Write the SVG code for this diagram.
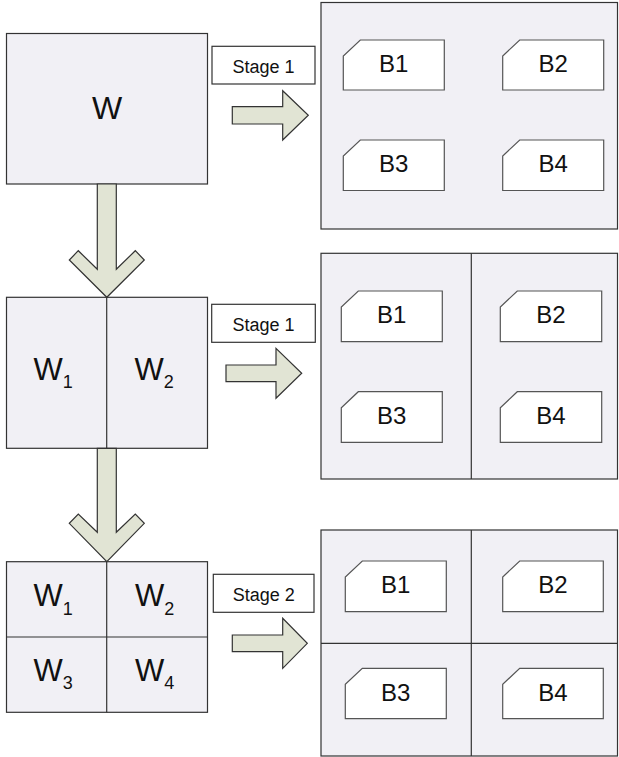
<svg xmlns="http://www.w3.org/2000/svg" width="619" height="757" viewBox="0 0 619 757">
<style>
.panel{fill:#f1f0f5;stroke:#333;stroke-width:1.2}
.div{stroke:#333;stroke-width:1.2;fill:none}
.fold{fill:#fff;stroke:#555;stroke-width:1.2}
.lbl{fill:#fff;stroke:#333;stroke-width:1.2}
.arr{fill:#e1e4d4;stroke:#333;stroke-width:1.2;stroke-linejoin:miter}
text{font-family:"Liberation Sans",Arial,sans-serif;fill:#111}
.b{font-size:24px;text-anchor:middle}
.st{font-size:18px;text-anchor:middle}
.w{font-size:31px}
.sub{font-size:18px}
</style>
<g id="W">
<rect class="panel" x="6.5" y="33.5" width="201" height="150.5"/>
<text class="w" x="107" y="119.3" text-anchor="middle" style="font-size:32px">W</text>
</g>
<g id="W12">
<rect class="panel" x="6.5" y="297.3" width="201" height="151"/>
<line class="div" x1="106.7" y1="297.3" x2="106.7" y2="448.3"/>
<text class="w" x="33.5" y="380">W<tspan class="sub" dy="7.7">1</tspan></text>
<text class="w" x="134.5" y="380">W<tspan class="sub" dy="7.7">2</tspan></text>
</g>
<g id="W1234">
<rect class="panel" x="6.5" y="561.7" width="201" height="150.6"/>
<line class="div" x1="106.7" y1="561.7" x2="106.7" y2="712.3"/>
<line class="div" x1="6.5" y1="637" x2="207.5" y2="637"/>
<text class="w" x="33.5" y="606">W<tspan class="sub" dy="8.5">1</tspan></text>
<text class="w" x="135" y="606">W<tspan class="sub" dy="8.5">2</tspan></text>
<text class="w" x="33.5" y="680.7">W<tspan class="sub" dy="8.5">3</tspan></text>
<text class="w" x="135" y="680.7">W<tspan class="sub" dy="8.5">4</tspan></text>
</g>
<g id="stage1a">
<rect class="lbl" x="212" y="46.3" width="103" height="37.7"/>
<text class="st" x="263.5" y="72.5">Stage 1</text>
</g>
<g id="stage1b">
<rect class="lbl" x="211.7" y="304.3" width="103.6" height="38"/>
<text class="st" x="263.5" y="330.8">Stage 1</text>
</g>
<g id="stage2">
<rect class="lbl" x="213.3" y="574.3" width="100.7" height="38"/>
<text class="st" x="263.7" y="600.8">Stage 2</text>
</g>
<g id="panel1">
<rect class="panel" x="321" y="2.5" width="296.5" height="226.5"/>
<path class="fold" d="M360.3,40 H444.3 V90 H343.3 V56 Z"/>
<text class="b" x="393.8" y="72">B1</text>
<path class="fold" d="M519.7,40 H603.7 V90 H502.7 V56 Z"/>
<text class="b" x="553.2" y="72">B2</text>
<path class="fold" d="M360.3,140 H444.3 V190.5 H343.3 V156 Z"/>
<text class="b" x="393.8" y="172">B3</text>
<path class="fold" d="M519.7,140 H603.7 V190.5 H502.7 V156 Z"/>
<text class="b" x="553.2" y="172">B4</text>
</g>
<g id="panel2">
<rect class="panel" x="321" y="253.3" width="296.5" height="225.7"/>
<line class="div" x1="471.3" y1="253.3" x2="471.3" y2="479"/>
<path class="fold" d="M358.3,291 H442.3 V341.7 H341.3 V307 Z"/>
<text class="b" x="391.8" y="323.3">B1</text>
<path class="fold" d="M517.3,291 H601.7 V341.7 H500.3 V307 Z"/>
<text class="b" x="551" y="323.3">B2</text>
<path class="fold" d="M358.3,391.7 H442.3 V442.3 H341.3 V407.7 Z"/>
<text class="b" x="391.8" y="424">B3</text>
<path class="fold" d="M517.3,391.7 H601.7 V442.3 H500.3 V407.7 Z"/>
<text class="b" x="551" y="424">B4</text>
</g>
<g id="panel3">
<rect class="panel" x="321" y="530" width="296.5" height="226"/>
<line class="div" x1="471.3" y1="530" x2="471.3" y2="756"/>
<line class="div" x1="321" y1="643.3" x2="617.5" y2="643.3"/>
<path class="fold" d="M362.3,561 H446.3 V611.7 H345.3 V577 Z"/>
<text class="b" x="395.8" y="593.3">B1</text>
<path class="fold" d="M519.7,561 H603.3 V611.7 H502.7 V577 Z"/>
<text class="b" x="553" y="593.3">B2</text>
<path class="fold" d="M362.3,668.3 H446.3 V718.7 H345.3 V684.3 Z"/>
<text class="b" x="395.8" y="700.5">B3</text>
<path class="fold" d="M519.7,668.3 H603.3 V718.7 H502.7 V684.3 Z"/>
<text class="b" x="553" y="700.5">B4</text>
</g>
<g id="connectors">
<path class="arr" d="M232.3,106.7 H282.7 V90.7 L308.3,115.3 L282.7,140 V124 H232.3 Z"/>
<path class="arr" d="M226,365 H276 V348.3 L301.7,373.3 L276,398.3 V381.7 H226 Z"/>
<path class="arr" d="M232.3,635 H282.7 V618.3 L307.3,643.3 L282.7,668.3 V651.7 H232.3 Z"/>
<path class="arr" d="M97.3,184 V269.3 L78.3,250.7 L69.3,260 L106.8,297.3 L144.3,260 L135.3,250.7 L116.3,269.3 V184 Z"/>
<path class="arr" d="M97.3,448.3 V532.3 L78.3,514 L69.3,523.3 L106.8,561.7 L144.3,523.3 L135.3,514 L116.3,532.3 V448.3 Z"/>
</g>
</svg>
